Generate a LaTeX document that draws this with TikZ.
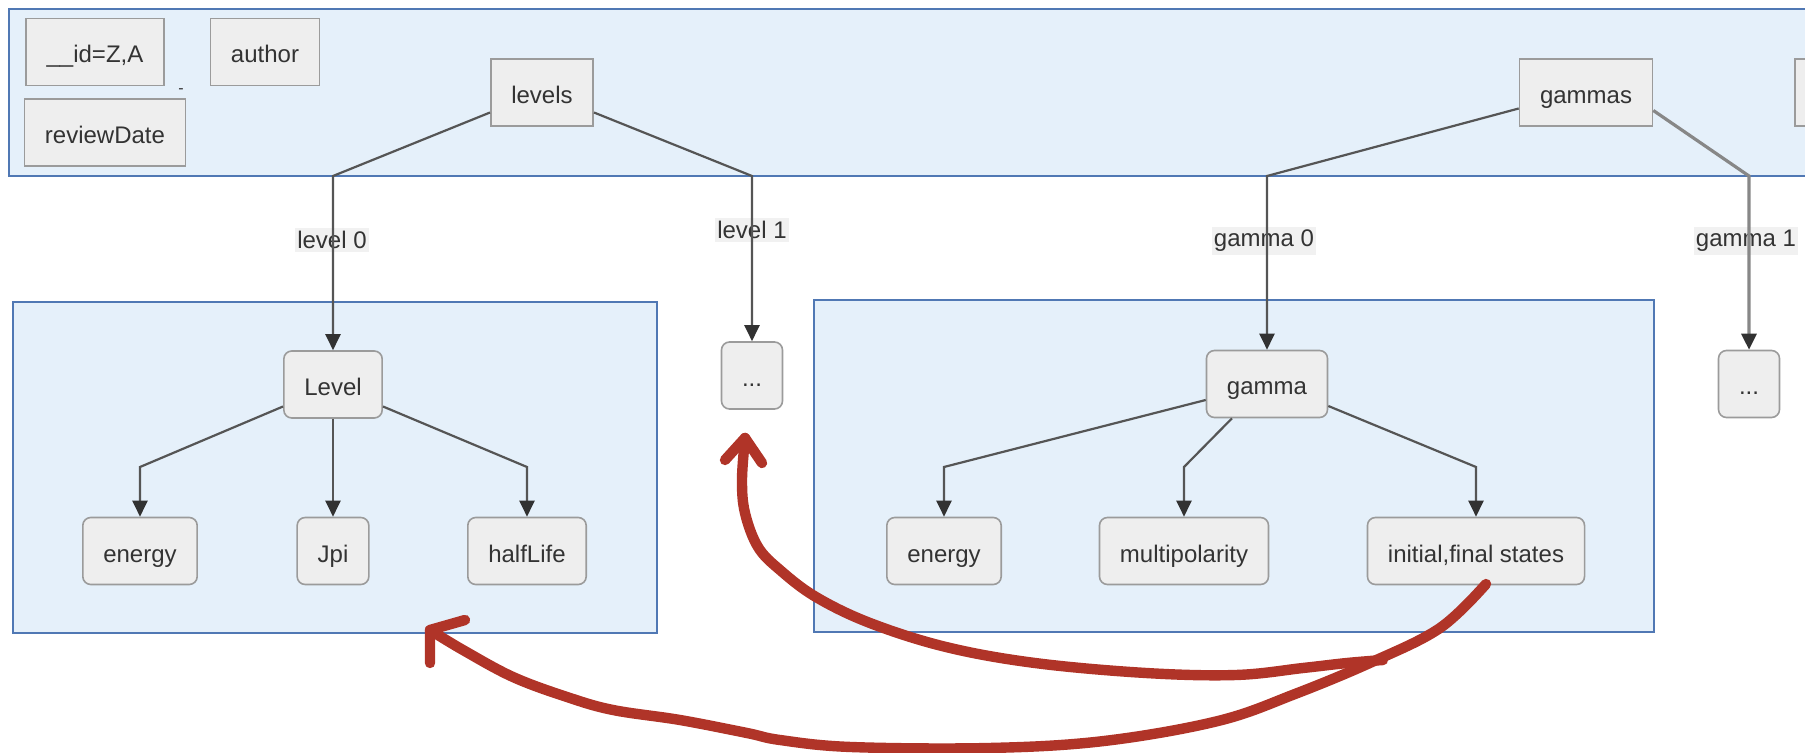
\documentclass[tikz,border=0pt]{standalone}
\usepackage{fontspec}
\setmainfont{Liberation Sans}
\usetikzlibrary{arrows.meta}
\definecolor{ink}{RGB}{51,51,51}
\definecolor{edgegray}{RGB}{85,85,85}
\definecolor{tipgray}{RGB}{50,50,50}
\definecolor{softedge}{RGB}{135,135,135}
\definecolor{boxfill}{RGB}{238,238,238}
\definecolor{boxline}{RGB}{155,155,155}
\definecolor{panelfill}{RGB}{229,240,250}
\definecolor{panelline}{RGB}{80,120,180}
\definecolor{labelfill}{RGB}{241,241,241}
\definecolor{marker}{RGB}{176,52,40}

\begin{document}
\begin{tikzpicture}[x=0.5pt,y=-0.5pt,
  font=\fontsize{12}{14}\selectfont, text=ink,
  panel/.style={draw=panelline, fill=panelfill, line width=1pt},
  field/.style={draw=boxline, fill=boxfill, line width=0.8pt,
    inner xsep=10.25pt, inner ysep=2pt, minimum height=33.5pt,
    text height=11pt, text depth=0pt, text=ink},
  item/.style={field, rounded corners=4pt},
  link/.style={draw=edgegray, line width=1.1pt,
    -{Triangle[length=8pt,width=7.5pt,color=tipgray]}},
  softlink/.style={link, draw=softedge, line width=1.6pt},
  tag/.style={fill=labelfill, inner xsep=1pt, inner ysep=1.5pt, text=ink},
  stroke/.style={draw=marker, line width=5.2pt, line cap=round, line join=round},
]
\useasboundingbox (0,0) rectangle (1805,753);
\clip (0,0) rectangle (1805,753);

% panels
\path[panel] (9,9) rectangle (1830,176);
\path[panel] (13,302) rectangle (657,633);
\path[panel] (814,300) rectangle (1654,632);

% top-level fields
\node[field] (id) at (95,52) {\_\_id=Z,A};
\node[field] (author) at (265,52) {author};
\node[field] (review) at (105,132.5) {reviewDate};
\node[font=\fontsize{8}{9}\selectfont] (dash) at (181,91) {-};
\node[field] (levels) at (542,92.5) {levels};
\node[field] (gammas) at (1586,92.5) {gammas};
\node[field, minimum width=60pt, anchor=west] (more) at (1794,92.5) {};

% level subtree
\node[item] (level) at (333,384.5) {Level};
\node[item] (dotsA) at (752,375.5) {...};
\node[item] (energyA) at (140,551) {energy};
\node[item] (jpi) at (333,551) {Jpi};
\node[item] (half) at (527,551) {halfLife};

% gamma subtree
\node[item] (gamma) at (1267,384) {gamma};
\node[item] (dotsB) at (1749,384) {...};
\node[item] (energyB) at (944,551) {energy};
\node[item] (multi) at (1184,551) {multipolarity};
\node[item] (states) at (1476,551) {initial,final states};

% edge labels (drawn under the edges)
\node[tag] (t0) at (332,240) {level 0};
\node[tag] (t1) at (752,230) {level 1};
\node[tag] (t2) at (1264,241) {gamma 0};
\node[tag] (t3) at (1746,241) {gamma 1};

% bend points
\coordinate (kL0) at (333,176);
\coordinate (kL1) at (752,176);
\coordinate (kG0) at (1267,176);
\coordinate (kG1) at (1749,176);
\coordinate (kE) at (140,467);
\coordinate (kH) at (527,467);
\coordinate (kGE) at (944,467);
\coordinate (kGM) at (1184,467);
\coordinate (kGS) at (1476,467);

% tree edges
\draw[link] ([yshift=-10pt]levels.west) -- (kL0) -- (level);
\draw[link] ([yshift=-10pt]levels.east) -- (kL1) -- (dotsA);
\draw[link] ([yshift=-8pt]gammas.west) -- (kG0) -- (gamma);
\draw[softlink] ([yshift=-9pt]gammas.east) -- (kG1) -- (dotsB);

\draw[link] ([yshift=-11pt]level.west) -- (kE) -- (energyA);
\draw[link] (level) -- (jpi);
\draw[link] ([yshift=-11pt]level.east) -- (kH) -- (half);

\draw[link] ([yshift=-8pt]gamma.west) -- (kGE) -- (energyB);
\draw[link] ([xshift=-17.5pt]gamma.south) -- (kGM) -- (multi);
\draw[link] ([yshift=-11pt]gamma.east) -- (kGS) -- (states);

% hand-drawn red arrows
\coordinate (s1) at (1486,584);
\coordinate (h1) at (430,630);
\draw[stroke] plot[smooth, tension=0.6] coordinates {(s1) (1440,628) (1372,662)
  (1295,694) (1218,721) (1104,741) (989,748) (851,747) (780,740) (747,733)
  (680,720) (613,710) (567,697) (513,677) (463,650) (h1)};
\draw[stroke] (465,620) -- (h1) -- (430,663);

\coordinate (s2) at (1383,660);
\coordinate (h2) at (745,438);
\draw[stroke] plot[smooth, tension=0.6] coordinates {(s2) (1347,663) (1303,668)
  (1236,675) (1146,673) (1035,663) (946,647) (870,623) (816,597) (780,570)
  (758,547) (745,513) (742,480) (h2)};
\draw[stroke] (725,460) -- (h2) -- (762,463);
\end{tikzpicture}
\end{document}
